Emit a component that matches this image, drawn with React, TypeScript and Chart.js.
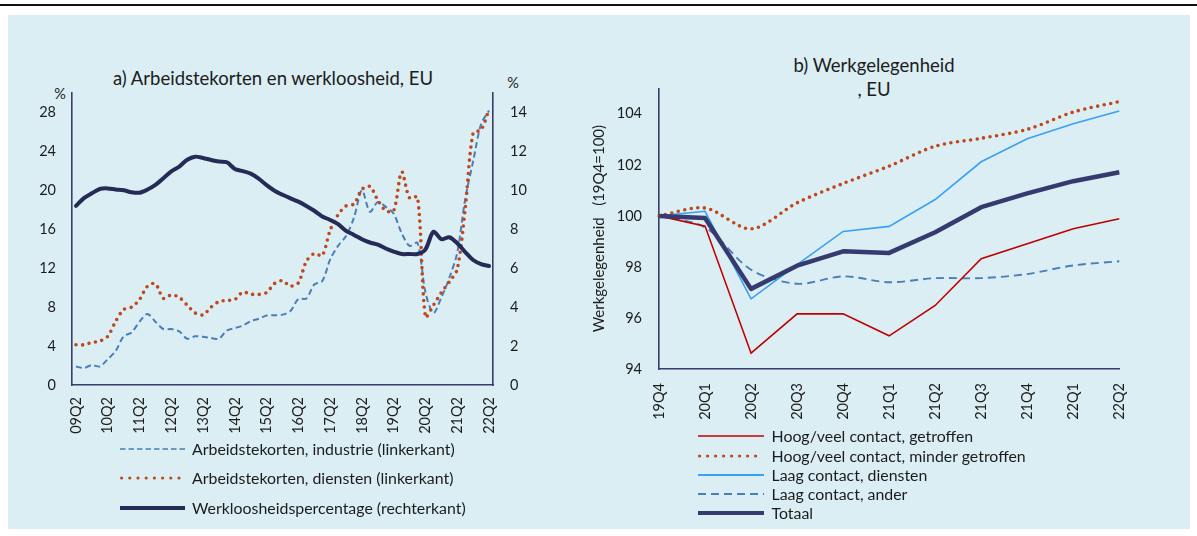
import React, { useEffect, useRef } from 'react';
import { Chart, registerables } from 'chart.js';

Chart.register(...registerables);

// ---------- data: panel a ----------
const quartersA = [
  '09Q2', '09Q3', '09Q4', '10Q1', '10Q2', '10Q3', '10Q4', '11Q1', '11Q2', '11Q3', '11Q4',
  '12Q1', '12Q2', '12Q3', '12Q4', '13Q1', '13Q2', '13Q3', '13Q4', '14Q1', '14Q2', '14Q3',
  '14Q4', '15Q1', '15Q2', '15Q3', '15Q4', '16Q1', '16Q2', '16Q3', '16Q4', '17Q1', '17Q2',
  '17Q3', '17Q4', '18Q1', '18Q2', '18Q3', '18Q4', '19Q1', '19Q2', '19Q3', '19Q4', '20Q1',
  '20Q2', '20Q3', '20Q4', '21Q1', '21Q2', '21Q3', '21Q4', '22Q1', '22Q2',
];
const shortageIndustry = [
  1.9, 1.75, 2.05, 1.9, 2.65, 3.5, 5.0, 5.4, 6.5, 7.3, 6.5,
  5.75, 5.75, 5.5, 4.75, 5.0, 4.95, 4.82, 4.75, 5.6, 5.85, 6.1,
  6.55, 6.8, 7.13, 7.16, 7.23, 7.6, 8.85, 8.88, 10.33, 10.67, 12.9,
  14.3, 15.3, 17.2, 20.0, 17.8, 18.8, 18.3, 17.6, 15.6, 14.3, 14.6,
  9.5, 7.4, 9.0, 11.0, 13.6, 19.1, 23.0, 26.8, 28.2,
];
const shortageServices = [
  4.13, 4.13, 4.37, 4.51, 5.0, 6.54, 7.75, 8.0, 8.78, 10.15, 10.4,
  8.9, 9.25, 9.0, 8.2, 7.4, 7.2, 8.0, 8.57, 8.68, 8.78, 9.54,
  9.33, 9.3, 9.5, 10.43, 10.71, 10.16, 10.5, 12.7, 13.5, 13.3, 15.9,
  17.5, 18.4, 18.6, 20.1, 20.4, 19.0, 17.9, 17.9, 21.9, 19.2, 19.3,
  7.0, 8.2, 9.5, 10.6, 11.9, 18.1, 25.9, 26.2, 28.3,
];
const unemployment = [
  9.2, 9.6, 9.85, 10.07, 10.1, 10.04, 10.0, 9.9, 9.88, 10.04, 10.28,
  10.62, 10.97, 11.22, 11.57, 11.73, 11.66, 11.56, 11.48, 11.44, 11.1, 10.99,
  10.86, 10.6, 10.27, 9.98, 9.77, 9.59, 9.42, 9.2, 8.95, 8.66, 8.48,
  8.26, 7.92, 7.71, 7.49, 7.32, 7.21, 7.01, 6.85, 6.73, 6.73, 6.73,
  6.97, 7.87, 7.49, 7.59, 7.28, 6.83, 6.42, 6.21, 6.11,
];
const ticksLeftA = [0, 4, 8, 12, 16, 20, 24, 28];
const ticksRightA = [0, 2, 4, 6, 8, 10, 12, 14];
const namesA = [
  'Arbeidstekorten, industrie (linkerkant)',
  'Arbeidstekorten, diensten (linkerkant)',
  'Werkloosheidspercentage (rechterkant)',
];

// ---------- data: panel b ----------
const quartersB = ['19Q4', '20Q1', '20Q2', '20Q3', '20Q4', '21Q1', '21Q2', '21Q3', '21Q4', '22Q1', '22Q2'];
const highContactHit = [100, 99.6, 94.62, 96.16, 96.16, 95.3, 96.49, 98.32, 98.91, 99.5, 99.89];
const highContactLess = [100, 100.31, 99.49, 100.51, 101.27, 101.95, 102.73, 103.04, 103.39, 104.07, 104.48];
const lowContactServices = [100, 100.18, 96.75, 98.09, 99.39, 99.59, 100.64, 102.12, 103.02, 103.61, 104.11];
const lowContactOther = [100, 99.55, 97.89, 97.34, 97.63, 97.4, 97.56, 97.56, 97.72, 98.06, 98.22];
const totalEmployment = [100, 99.92, 97.14, 98.05, 98.61, 98.55, 99.36, 100.34, 100.88, 101.36, 101.71];
const ticksB = [94, 96, 98, 100, 102, 104];
const namesB = [
  'Hoog/veel contact, getroffen',
  'Hoog/veel contact, minder getroffen',
  'Laag contact, diensten',
  'Laag contact, ander',
  'Totaal',
];

// ---------- styles ----------
const FONT = 'Lato, "Open Sans", "Noto Sans", sans-serif';
const TXT = '#1c1c1c';
const AXIS = '#3a3d68';
const C_DASH = '#4a7ebb';
const C_DOT = '#c0461b';
const C_NAVY = '#262a56';
const C_RED = '#c00000';
const C_LIGHT = '#3aa0f5';
const C_TOTAL = '#363a6e';
const FS = 14.5;
const FS_LEG = 15.9;
const FS_TITLE = 18.5;

const fixedTicks = (vals: number[]) => (scale: any) => {
  scale.ticks = vals.map((v) => ({ value: v }));
};

function LegendRow(props: any) {
  const { left, top, w, gap, stroke, sw, dash, cap, label } = props;
  const inset = cap === 'round' ? sw / 2 : 0;
  return (
    <div
      style={{
        position: 'absolute', left, top: top - 10, height: 20,
        display: 'flex', alignItems: 'center', whiteSpace: 'nowrap',
      }}
    >
      <svg width={w} height={20} style={{ display: 'block' }}>
        <line x1={inset} y1={10} x2={w - inset} y2={10} stroke={stroke} strokeWidth={sw}
          strokeDasharray={dash} strokeLinecap={cap || 'butt'} />
      </svg>
      <span style={{ marginLeft: gap, fontSize: FS_LEG, color: TXT, lineHeight: '20px' }}>{label}</span>
    </div>
  );
}

export default function App() {
  const refA = useRef<HTMLCanvasElement>(null);
  const refB = useRef<HTMLCanvasElement>(null);

  useEffect(() => {
    const tickFont = { family: FONT, size: FS };
    const chartA = new Chart(refA.current as HTMLCanvasElement, {
      type: 'line',
      data: {
        labels: quartersA,
        datasets: [
          {
            label: namesA[2], data: unemployment, yAxisID: 'yR', order: 0,
            borderColor: C_NAVY, borderWidth: 4, pointRadius: 0, tension: 0.3,
            borderJoinStyle: 'round', borderCapStyle: 'round',
          },
          {
            label: namesA[1], data: shortageServices, yAxisID: 'yL', order: 1,
            borderColor: C_DOT, borderWidth: 3.6, borderDash: [0, 6.6], borderCapStyle: 'round',
            pointRadius: 0, tension: 0.3,
          },
          {
            label: namesA[0], data: shortageIndustry, yAxisID: 'yL', order: 2,
            borderColor: C_DASH, borderWidth: 2, borderDash: [6, 3.5], pointRadius: 0, tension: 0.3,
          },
        ],
      },
      options: {
        animation: false,
        responsive: false,
        maintainAspectRatio: false,
        events: [],
        layout: { padding: { top: 53, left: 0, right: 0, bottom: 0 } },
        plugins: { legend: { display: false }, tooltip: { enabled: false }, title: { display: false } },
        scales: {
          x: {
            type: 'category',
            offset: true,
            grid: { display: false, drawTicks: false },
            border: { display: true, color: AXIS, width: 1.6 },
            ticks: {
              autoSkip: false, minRotation: 90, maxRotation: 90, padding: 12, color: TXT, font: tickFont,
              callback: (_v: any, i: number) => (i % 4 === 0 ? quartersA[i] : ''),
            },
            afterFit: (s: any) => { s.height = 55; },
          },
          yL: {
            type: 'linear', position: 'left', min: 0, max: 30,
            afterBuildTicks: fixedTicks(ticksLeftA),
            grid: { display: false, drawTicks: false },
            border: { display: true, color: AXIS, width: 1.6 },
            ticks: { padding: 16, color: TXT, font: tickFont },
            afterFit: (s: any) => { s.width = 52; },
          },
          yR: {
            type: 'linear', position: 'right', min: 0, max: 15,
            afterBuildTicks: fixedTicks(ticksRightA),
            grid: { display: false, drawTicks: false },
            border: { display: true, color: AXIS, width: 1.6 },
            ticks: { padding: 17, color: TXT, font: tickFont },
            afterFit: (s: any) => { s.width = 67; },
          },
        },
      } as any,
    });

    const chartB = new Chart(refB.current as HTMLCanvasElement, {
      type: 'line',
      data: {
        labels: quartersB,
        datasets: [
          {
            label: namesB[4], data: totalEmployment, order: 0,
            borderColor: C_TOTAL, borderWidth: 4.5, pointRadius: 0, tension: 0,
            borderJoinStyle: 'round',
          },
          {
            label: namesB[0], data: highContactHit, order: 1,
            borderColor: C_RED, borderWidth: 1.6, pointRadius: 0, tension: 0,
          },
          {
            label: namesB[2], data: lowContactServices, order: 2,
            borderColor: C_LIGHT, borderWidth: 1.6, pointRadius: 0, tension: 0,
          },
          {
            label: namesB[3], data: lowContactOther, order: 3,
            borderColor: C_DASH, borderWidth: 1.9, borderDash: [8, 5], pointRadius: 0, tension: 0.3,
          },
          {
            label: namesB[1], data: highContactLess, order: 4,
            borderColor: C_DOT, borderWidth: 3.6, borderDash: [0, 6.6], borderCapStyle: 'round',
            pointRadius: 0, tension: 0.3,
          },
        ],
      },
      options: {
        animation: false,
        responsive: false,
        maintainAspectRatio: false,
        events: [],
        layout: { padding: { top: 48.3, left: 0, right: 50.7, bottom: 0 } },
        plugins: { legend: { display: false }, tooltip: { enabled: false }, title: { display: false } },
        scales: {
          x: {
            type: 'category',
            offset: false,
            grid: { display: false, drawTicks: false },
            border: { display: true, color: AXIS, width: 1.6 },
            ticks: { autoSkip: false, minRotation: 90, maxRotation: 90, padding: 14, color: TXT, font: tickFont },
            afterFit: (s: any) => { s.height = 71; },
          },
          y: {
            type: 'linear', position: 'left', min: 94, max: 105,
            afterBuildTicks: fixedTicks(ticksB),
            grid: { display: false, drawTicks: false },
            border: { display: true, color: AXIS, width: 1.6 },
            ticks: { padding: 17, color: TXT, font: tickFont },
            title: {
              display: true, text: 'Werkgelegenheid   (19Q4=100)', color: TXT,
              font: { family: FONT, size: 15 }, padding: { top: 20, bottom: 0 },
            },
            afterFit: (s: any) => { s.width = 89; },
          },
        },
      } as any,
    });

    return () => {
      chartA.destroy();
      chartB.destroy();
    };
  }, []);

  const abs = (left: number, top: number, extra: any = {}) => ({
    position: 'absolute' as const, left, top, ...extra,
  });

  return (
    <div style={{ position: 'absolute', left: 0, top: 0, width: 1197, height: 536, background: '#fff', fontFamily: FONT, overflow: 'hidden' }}>
      <div style={abs(0, 4, { width: 1197, height: 2, background: '#111' })} />
      <div style={abs(8, 15, { width: 1182, height: 514, background: '#daeef3' })} />

      {/* panel a */}
      <div style={abs(273, 67, { transform: 'translateX(-50%)', whiteSpace: 'nowrap', fontSize: FS_TITLE, lineHeight: '22px', color: TXT })}>
        a) Arbeidstekorten en werkloosheid, EU
      </div>
      <div style={abs(60, 85, { transform: 'translateX(-50%)', fontSize: FS, lineHeight: '18px', color: TXT })}>%</div>
      <div style={abs(513, 74, { transform: 'translateX(-50%)', fontSize: FS, lineHeight: '18px', color: TXT })}>%</div>
      <canvas ref={refA} width={540} height={400} style={abs(20, 40, { width: 540, height: 400 })} />

      <LegendRow left={120} top={449} w={65} gap={7} stroke={C_DASH} sw={1.6} dash="5.5 3" label={namesA[0]} />
      <LegendRow left={120} top={478} w={65} gap={7} stroke={C_DOT} sw={3.2} dash="0 8.2" cap="round" label={namesA[1]} />
      <LegendRow left={120} top={508} w={65} gap={7} stroke={C_NAVY} sw={4} label={namesA[2]} />

      {/* panel b */}
      <div style={abs(874, 54, { transform: 'translateX(-50%)', whiteSpace: 'nowrap', fontSize: FS_TITLE, lineHeight: '22px', color: TXT, textAlign: 'center' })}>
        b) Werkgelegenheid
      </div>
      <div style={abs(874, 78, { transform: 'translateX(-50%)', whiteSpace: 'nowrap', fontSize: FS_TITLE, lineHeight: '22px', color: TXT, textAlign: 'center' })}>
        , EU
      </div>
      <canvas ref={refB} width={600} height={400} style={abs(570, 40, { width: 600, height: 400 })} />

      <LegendRow left={698} top={436} w={66} gap={7.5} stroke={C_RED} sw={1.6} label={namesB[0]} />
      <LegendRow left={698} top={455.5} w={66} gap={7.5} stroke={C_DOT} sw={3.2} dash="0 8" cap="round" label={namesB[1]} />
      <LegendRow left={698} top={475} w={66} gap={7.5} stroke={C_LIGHT} sw={2} label={namesB[2]} />
      <LegendRow left={698} top={494} w={66} gap={7.5} stroke={C_DASH} sw={1.8} dash="8 5" label={namesB[3]} />
      <LegendRow left={698} top={513} w={66} gap={7.5} stroke={C_TOTAL} sw={4} label={namesB[4]} />
    </div>
  );
}
